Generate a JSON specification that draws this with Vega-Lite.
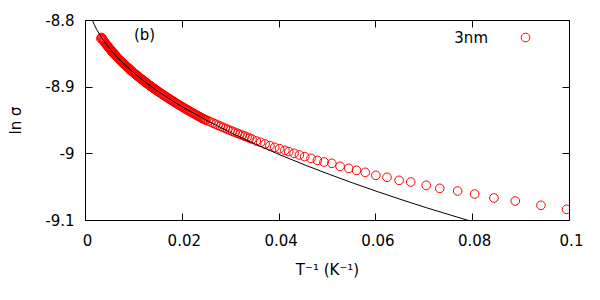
{
  "$schema": "https://vega.github.io/schema/vega-lite/v6.json",
  "width": 484,
  "height": 200,
  "autosize": {"type": "none"},
  "padding": {"left": 85, "top": 20, "right": 31, "bottom": 80},
  "background": "white",
  "config": {
    "view": {"stroke": "black", "strokeWidth": 1},
    "font": "DejaVu Sans",
    "axis": {
      "domain": false,
      "grid": false,
      "tickColor": "black",
      "tickSize": -7,
      "tickWidth": 1,
      "labelFont": "DejaVu Sans",
      "labelFontSize": 15,
      "labelColor": "black",
      "titleFont": "DejaVu Sans",
      "titleFontSize": 15,
      "titleFontWeight": "normal",
      "titleColor": "black"
    }
  },
  "datasets": {
    "pts": [
      {"x":0.0033,"y":-8.8280},{"x":0.0034,"y":-8.8262},{"x":0.0035,"y":-8.8273},{"x":0.0036,"y":-8.8284},{"x":0.0037,"y":-8.8295},
      {"x":0.0038,"y":-8.8305},{"x":0.0039,"y":-8.8316},{"x":0.0040,"y":-8.8326},{"x":0.0041,"y":-8.8336},{"x":0.0042,"y":-8.8346},
      {"x":0.0043,"y":-8.8356},{"x":0.0044,"y":-8.8365},{"x":0.0045,"y":-8.8375},{"x":0.0046,"y":-8.8384},{"x":0.0047,"y":-8.8394},
      {"x":0.0048,"y":-8.8403},{"x":0.0049,"y":-8.8412},{"x":0.0050,"y":-8.8421},{"x":0.0051,"y":-8.8430},{"x":0.0052,"y":-8.8439},
      {"x":0.0053,"y":-8.8448},{"x":0.0054,"y":-8.8456},{"x":0.0055,"y":-8.8465},{"x":0.0056,"y":-8.8473},{"x":0.0057,"y":-8.8482},
      {"x":0.0058,"y":-8.8490},{"x":0.0059,"y":-8.8498},{"x":0.0060,"y":-8.8506},{"x":0.0061,"y":-8.8514},{"x":0.0062,"y":-8.8523},
      {"x":0.0063,"y":-8.8530},{"x":0.0064,"y":-8.8538},{"x":0.0065,"y":-8.8546},{"x":0.0066,"y":-8.8554},{"x":0.0067,"y":-8.8562},
      {"x":0.0068,"y":-8.8569},{"x":0.0069,"y":-8.8577},{"x":0.0070,"y":-8.8584},{"x":0.0071,"y":-8.8592},{"x":0.0072,"y":-8.8599},
      {"x":0.0073,"y":-8.8607},{"x":0.0074,"y":-8.8614},{"x":0.0075,"y":-8.8621},{"x":0.0076,"y":-8.8628},{"x":0.0077,"y":-8.8635},
      {"x":0.0078,"y":-8.8643},{"x":0.0079,"y":-8.8650},{"x":0.0080,"y":-8.8657},{"x":0.0081,"y":-8.8664},{"x":0.0082,"y":-8.8670},
      {"x":0.0083,"y":-8.8677},{"x":0.0084,"y":-8.8684},{"x":0.0085,"y":-8.8691},{"x":0.0086,"y":-8.8698},{"x":0.0087,"y":-8.8704},
      {"x":0.0088,"y":-8.8711},{"x":0.0089,"y":-8.8718},{"x":0.0090,"y":-8.8724},{"x":0.0091,"y":-8.8731},{"x":0.0092,"y":-8.8737},
      {"x":0.0093,"y":-8.8744},{"x":0.0094,"y":-8.8750},{"x":0.0095,"y":-8.8756},{"x":0.0096,"y":-8.8763},{"x":0.0097,"y":-8.8769},
      {"x":0.0098,"y":-8.8775},{"x":0.0099,"y":-8.8782},{"x":0.0100,"y":-8.8788},{"x":0.0101,"y":-8.8794},{"x":0.0102,"y":-8.8800},
      {"x":0.0103,"y":-8.8806},{"x":0.0104,"y":-8.8813},{"x":0.0105,"y":-8.8819},{"x":0.0106,"y":-8.8825},{"x":0.0107,"y":-8.8831},
      {"x":0.0108,"y":-8.8837},{"x":0.0109,"y":-8.8843},{"x":0.0110,"y":-8.8848},{"x":0.0111,"y":-8.8854},{"x":0.0112,"y":-8.8860},
      {"x":0.0113,"y":-8.8866},{"x":0.0114,"y":-8.8872},{"x":0.0115,"y":-8.8878},{"x":0.0116,"y":-8.8883},{"x":0.0117,"y":-8.8889},
      {"x":0.0118,"y":-8.8895},{"x":0.0119,"y":-8.8901},{"x":0.0120,"y":-8.8906},{"x":0.0121,"y":-8.8912},{"x":0.0122,"y":-8.8917},
      {"x":0.0123,"y":-8.8923},{"x":0.0124,"y":-8.8929},{"x":0.0125,"y":-8.8934},{"x":0.0126,"y":-8.8940},{"x":0.0127,"y":-8.8945},
      {"x":0.0128,"y":-8.8951},{"x":0.0129,"y":-8.8956},{"x":0.0130,"y":-8.8962},{"x":0.0131,"y":-8.8967},{"x":0.0132,"y":-8.8972},
      {"x":0.0133,"y":-8.8978},{"x":0.0134,"y":-8.8983},{"x":0.0135,"y":-8.8988},{"x":0.0136,"y":-8.8994},{"x":0.0137,"y":-8.8999},
      {"x":0.0138,"y":-8.9004},{"x":0.0139,"y":-8.9009},{"x":0.0140,"y":-8.9015},{"x":0.0141,"y":-8.9020},{"x":0.0142,"y":-8.9025},
      {"x":0.0143,"y":-8.9030},{"x":0.0144,"y":-8.9035},{"x":0.0145,"y":-8.9041},{"x":0.0146,"y":-8.9046},{"x":0.0147,"y":-8.9051},
      {"x":0.0148,"y":-8.9056},{"x":0.0149,"y":-8.9061},{"x":0.0150,"y":-8.9066},
      {"x":0.0152,"y":-8.9076},{"x":0.0154,"y":-8.9086},{"x":0.0156,"y":-8.9096},{"x":0.0158,"y":-8.9106},{"x":0.0160,"y":-8.9115},
      {"x":0.0162,"y":-8.9125},{"x":0.0164,"y":-8.9135},{"x":0.0166,"y":-8.9144},{"x":0.0168,"y":-8.9154},{"x":0.0170,"y":-8.9163},
      {"x":0.0172,"y":-8.9173},{"x":0.0174,"y":-8.9182},{"x":0.0176,"y":-8.9191},{"x":0.0178,"y":-8.9201},{"x":0.0180,"y":-8.9210},
      {"x":0.0182,"y":-8.9219},{"x":0.0184,"y":-8.9228},{"x":0.0186,"y":-8.9237},{"x":0.0188,"y":-8.9246},{"x":0.0190,"y":-8.9255},
      {"x":0.0192,"y":-8.9264},{"x":0.0194,"y":-8.9273},{"x":0.0196,"y":-8.9282},{"x":0.0198,"y":-8.9290},{"x":0.0200,"y":-8.9299},
      {"x":0.0202,"y":-8.9308},{"x":0.0204,"y":-8.9316},{"x":0.0206,"y":-8.9325},{"x":0.0208,"y":-8.9334},{"x":0.0210,"y":-8.9342},
      {"x":0.0212,"y":-8.9351},{"x":0.0214,"y":-8.9359},{"x":0.0216,"y":-8.9367},{"x":0.0218,"y":-8.9376},{"x":0.0220,"y":-8.9384},
      {"x":0.0222,"y":-8.9392},{"x":0.0224,"y":-8.9400},{"x":0.0226,"y":-8.9409},{"x":0.0228,"y":-8.9417},{"x":0.0230,"y":-8.9425},
      {"x":0.0232,"y":-8.9433},{"x":0.0234,"y":-8.9441},{"x":0.0236,"y":-8.9449},{"x":0.0238,"y":-8.9457},{"x":0.0240,"y":-8.9465},
      {"x":0.0242,"y":-8.9473},{"x":0.0244,"y":-8.9481},{"x":0.0246,"y":-8.9487},{"x":0.0248,"y":-8.9494},{"x":0.0250,"y":-8.9501},
      {"x":0.0255,"y":-8.9514},{"x":0.0260,"y":-8.9531},{"x":0.0265,"y":-8.9547},{"x":0.0270,"y":-8.9562},{"x":0.0275,"y":-8.9579},
      {"x":0.0280,"y":-8.9594},{"x":0.0285,"y":-8.9610},{"x":0.0290,"y":-8.9626},{"x":0.0295,"y":-8.9641},{"x":0.0300,"y":-8.9655},
      {"x":0.0305,"y":-8.9671},{"x":0.0310,"y":-8.9686},{"x":0.0315,"y":-8.9700},{"x":0.0320,"y":-8.9714},{"x":0.0325,"y":-8.9729},
      {"x":0.0330,"y":-8.9743},{"x":0.0335,"y":-8.9757},{"x":0.0340,"y":-8.9772},
      {"x":0.0345,"y":-8.9785},{"x":0.0354,"y":-8.9815},{"x":0.0363,"y":-8.9835},{"x":0.0372,"y":-8.9860},{"x":0.0382,"y":-8.9885},
      {"x":0.0392,"y":-8.9910},{"x":0.0402,"y":-8.9930},{"x":0.0413,"y":-8.9955},{"x":0.0421,"y":-8.9975},{"x":0.0432,"y":-9.0000},
      {"x":0.0443,"y":-9.0025},{"x":0.0454,"y":-9.0050},{"x":0.0467,"y":-9.0075},{"x":0.0480,"y":-9.0105},{"x":0.0494,"y":-9.0130},
      {"x":0.0510,"y":-9.0150},{"x":0.0527,"y":-9.0195},{"x":0.0545,"y":-9.0225},{"x":0.0561,"y":-9.0255},{"x":0.0579,"y":-9.0285},
      {"x":0.0601,"y":-9.0330},{"x":0.0624,"y":-9.0360},{"x":0.0649,"y":-9.0405},{"x":0.0673,"y":-9.0430},{"x":0.0705,"y":-9.0480},
      {"x":0.0733,"y":-9.0525},{"x":0.0770,"y":-9.0565},{"x":0.0805,"y":-9.0610},{"x":0.0845,"y":-9.0670},{"x":0.0889,"y":-9.0715},
      {"x":0.0942,"y":-9.0780},{"x":0.0995,"y":-9.0840}
    ],
    "fit": [
      {"x": 0.0009, "y": -8.7868},
      {"x": 0.0014, "y": -8.7981},
      {"x": 0.0019, "y": -8.8067},
      {"x": 0.0024, "y": -8.8140},
      {"x": 0.0034, "y": -8.8262},
      {"x": 0.0044, "y": -8.8365},
      {"x": 0.0054, "y": -8.8456},
      {"x": 0.0069, "y": -8.8577},
      {"x": 0.0079, "y": -8.8650},
      {"x": 0.0104, "y": -8.8813},
      {"x": 0.0129, "y": -8.8956},
      {"x": 0.0154, "y": -8.9086},
      {"x": 0.0179, "y": -8.9205},
      {"x": 0.0204, "y": -8.9316},
      {"x": 0.0255, "y": -8.9519},
      {"x": 0.0305, "y": -8.9703},
      {"x": 0.0355, "y": -8.9872},
      {"x": 0.0405, "y": -9.0029},
      {"x": 0.0455, "y": -9.0177},
      {"x": 0.0505, "y": -9.0316},
      {"x": 0.0555, "y": -9.0449},
      {"x": 0.0605, "y": -9.0576},
      {"x": 0.0655, "y": -9.0698},
      {"x": 0.0705, "y": -9.0815},
      {"x": 0.0756, "y": -9.0928},
      {"x": 0.0806, "y": -9.1037},
      {"x": 0.0856, "y": -9.1143}
    ],
    "notes": [
      {"x": 0.0101, "y": -8.8225, "t": "(b)"}
    ],
    "legend": [
      {"series": "3nm"}
    ]
  },
  "layer": [
    {
      "data": {"name": "pts"},
      "transform": [{"lookup": "x", "from": {"data": {"name": "legend"}, "key": "series", "fields": ["series"]}, "default": "3nm"}],
      "mark": {"type": "point", "shape": "circle", "filled": false, "size": 75, "strokeWidth": 1, "opacity": 1, "clip": true},
      "encoding": {
        "x": {
          "field": "x", "type": "quantitative",
          "scale": {"domain": [0, 0.1], "nice": false, "zero": false},
          "axis": {"orient": "bottom", "values": [0, 0.02, 0.04, 0.06, 0.08, 0.1], "labelExpr": "'' + datum.value", "labelFlush": false, "labelOffset": 2, "labelPadding": 20, "title": "T⁻¹ (K⁻¹)", "titlePadding": 14}
        },
        "y": {
          "field": "y", "type": "quantitative",
          "scale": {"domain": [-9.1, -8.8], "nice": false, "zero": false},
          "axis": {"orient": "left", "values": [-9.1, -9, -8.9, -8.8], "labelExpr": "'' + datum.value", "labelPadding": 18, "title": "ln σ", "titlePadding": 21}
        },
        "color": {
          "field": "series", "type": "nominal",
          "scale": {"range": ["#ff0000"]},
          "legend": {
            "title": null,
            "orient": "none",
            "legendX": 433,
            "legendY": 10,
            "padding": 0,
            "symbolType": "circle",
            "symbolSize": 75,
            "symbolStrokeWidth": 1,
            "symbolFillColor": "transparent",
            "labelFont": "DejaVu Sans",
            "labelFontSize": 15,
            "labelColor": "black",
            "labelAlign": "right",
            "labelOffset": -45
          }
        }
      }
    },
    {
      "data": {"name": "fit"},
      "mark": {"type": "line", "color": "black", "strokeWidth": 1, "clip": true},
      "encoding": {
        "x": {
          "field": "x", "type": "quantitative",
          "axis": {"orient": "top", "values": [0, 0.02, 0.04, 0.06, 0.08, 0.1], "labels": false, "title": null}
        },
        "y": {
          "field": "y", "type": "quantitative",
          "axis": {"orient": "right", "values": [-9.1, -9, -8.9, -8.8], "labels": false, "title": null}
        }
      }
    },
    {
      "data": {"name": "notes"},
      "mark": {"type": "text", "align": "left", "baseline": "middle", "font": "DejaVu Sans", "fontSize": 15, "color": "black"},
      "encoding": {
        "x": {"field": "x", "type": "quantitative", "axis": null},
        "y": {"field": "y", "type": "quantitative", "axis": null},
        "text": {"field": "t"}
      }
    }
  ],
  "resolve": {"axis": {"x": "independent", "y": "independent"}}
}
